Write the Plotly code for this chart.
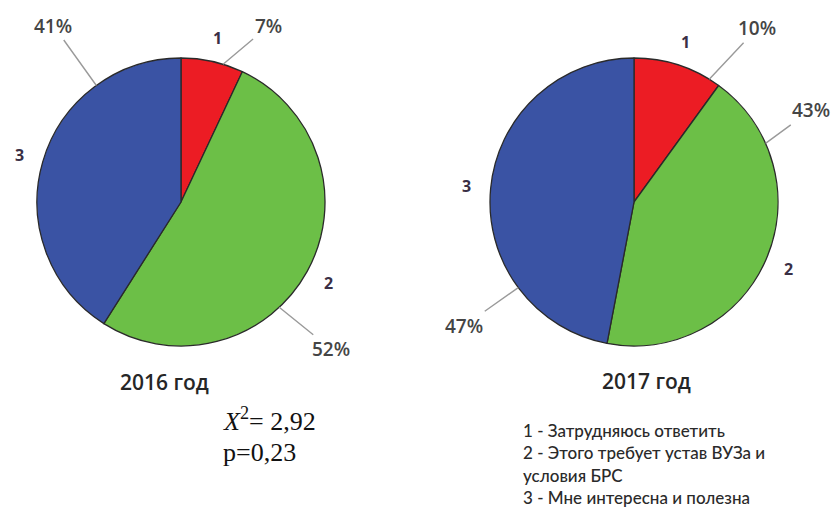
import math
import plotly.graph_objects as go

# ---- data ----
categories = ["1", "2", "3"]
years = ["2016 год", "2017 год"]
values_2016 = [7, 52, 41]
values_2017 = [10, 43, 47]
legend_lines = [
    "1 - Затрудняюсь ответить",
    "2 - Этого требует устав ВУЗа и",
    "условия БРС",
    "3 - Мне интересна и полезна",
]
stat_lines = ["<i>X</i><sup>2</sup>= 2,92", "p=0,23"]

# ---- style / layout ----
W, H = 838, 509
R = 144
centers = [(181, 202), (634, 202)]
colors = ["#ec1c24", "#6cbf47", "#3a53a4"]
title_pos = [(164, 382), (646, 381)]
# percent label placement: (edge angle deg clockwise from top, text dx, text dy)
pct_place = [
    [(17, 45, -38), (137, 52, 42), (324, -43, -60)],
    [(31.5, 48, -51), (66, 45, -33), (233.5, -54, 38)],
]
num_radius = 168

def px2paper(x, y):
    return x / W, 1 - y / H

fig = go.Figure()
annotations = []
for k, (vals, (cx, cy)) in enumerate(zip([values_2016, values_2017], centers)):
    fig.add_trace(go.Pie(
        labels=categories, values=vals, sort=False, direction="clockwise",
        rotation=0, textinfo="none", hoverinfo="label+percent",
        marker=dict(colors=colors, line=dict(color="#2a2a2a", width=1.3)),
        domain=dict(x=[(cx - R) / W, (cx + R) / W], y=[1 - (cy + R) / H, 1 - (cy - R) / H]),
        showlegend=False,
    ))
    total = sum(vals)
    cum = 0
    for i, v in enumerate(vals):
        mid = (cum + v / 2) / total * 360
        cum += v
        nx = cx + num_radius * math.sin(math.radians(mid))
        ny = cy - num_radius * math.cos(math.radians(mid))
        px, py = px2paper(nx, ny)
        annotations.append(dict(x=px, y=py, xref="paper", yref="paper", text=categories[i],
                                showarrow=False,
                                font=dict(family="Open Sans", size=16, color="#3a2f45", weight="bold"),
                                xanchor="center", yanchor="middle"))
        ang, dx, dy = pct_place[k][i]
        ex = cx + R * math.sin(math.radians(ang))
        ey = cy - R * math.cos(math.radians(ang))
        px, py = px2paper(ex, ey)
        annotations.append(dict(x=px, y=py, xref="paper", yref="paper", text=f"{v}%",
                                showarrow=True, arrowhead=0, arrowwidth=1.4, arrowcolor="#9a9a9a",
                                ax=dx, ay=dy, standoff=0,
                                font=dict(family="Open Sans", size=19, color="#454545", weight=600)))
    tx, ty = px2paper(*title_pos[k])
    annotations.append(dict(x=tx, y=ty, xref="paper", yref="paper", text=years[k], showarrow=False,
                            font=dict(family="Open Sans", size=21, color="#262626", weight=600),
                            xanchor="center", yanchor="middle"))

stat_split = 437
for j, line in enumerate(stat_lines):
    x, y = px2paper(222, stat_split)
    annotations.append(dict(x=x, y=y, xref="paper", yref="paper", text=line, showarrow=False,
                            font=dict(family="Liberation Serif", size=26, color="#111111"),
                            borderpad=0,
                            xanchor="left", yanchor="bottom" if j == 0 else "top"))

for j, line in enumerate(legend_lines):
    x, y = px2paper(521, 430 + 22.5 * j)
    annotations.append(dict(x=x, y=y, xref="paper", yref="paper", text=line, showarrow=False,
                            font=dict(family="Lato", size=17, color="#2a2a2a", weight=500),
                            xanchor="left", yanchor="middle"))

fig.update_layout(width=W, height=H, margin=dict(l=0, r=0, t=0, b=0),
                  paper_bgcolor="white", plot_bgcolor="white", annotations=annotations)
fig.write_html("out.html", config={"displayModeBar": False},
               post_script="document.body.style.margin='0';document.body.style.overflow='hidden';")
